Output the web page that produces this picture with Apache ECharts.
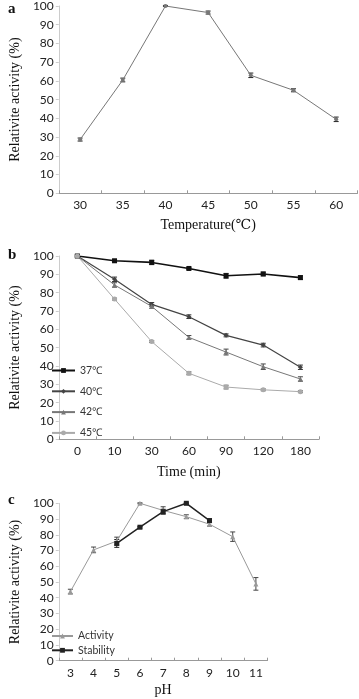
<!DOCTYPE html>
<html><head><meta charset="utf-8">
<script src="https://cdn.jsdelivr.net/npm/echarts@6/dist/echarts.min.js"></script>
<style>html,body{margin:0;padding:0;background:#fff}#c{width:359px;height:699px}</style>
</head><body><div id="c"></div>
<script>
// Panel a
var tempCats = ['30','35','40','45','50','55','60'];
var tempActivity = [28.7, 60.5, 100, 96.5, 63, 55, 39.5];
var tempErr = [0.8, 1, 0.3, 0.8, 1.2, 0.8, 1.2];
// Panel b
var timeCats = ['0','10','30','60','90','120','180'];
var t37 = [100, 97.4, 96.5, 93.2, 89.2, 90.2, 88.2];
var t37Err = [0.5, 0.6, 1.2, 0.6, 1.3, 1, 1];
var t40 = [100, 87.3, 73.6, 66.9, 56.7, 51.4, 39.3];
var t40Err = [0.5, 1.2, 1, 1, 0.8, 1, 1.2];
var t42 = [100, 84.2, 72.5, 55.6, 47.6, 39.6, 32.9];
var t42Err = [0.5, 1.2, 1, 1, 1.6, 1.5, 1.2];
var t45 = [100, 76.5, 53.3, 36, 28.5, 27, 26];
var t45Err = [0.5, 0.5, 0.5, 0.8, 1, 0.5, 0.5];
// Panel c
var phCats = ['3','4','5','6','7','8','9','10','11'];
var phActivity = [43.9, 70.4, 76, 100, 95.5, 91.5, 86.7, 78.8, 48.8];
var phActErr = [1.5, 1.8, 2.5, 0.3, 2.3, 1.2, 1.2, 3, 4];
var phStability = [null, null, 74.5, 84.8, 94.7, 100, 89, null, null];
var phStabErr = [null, null, 2.5, 0.5, 1.5, 0.3, 1.2, null, null];
var yTicks = [0,10,20,30,40,50,60,70,80,90,100];

var labelFont = 'Lato';
var serif = '"Liberation Serif", "DejaVu Serif", serif';

function errData(vals, errs) {
  var out = [];
  for (var i = 0; i < vals.length; i++) {
    if (vals[i] == null) continue;
    out.push([i, vals[i] - errs[i], vals[i] + errs[i]]);
  }
  return out;
}
function errSeries(idx, vals, errs, color) {
  return {
    type: 'custom', xAxisIndex: idx, yAxisIndex: idx, silent: true, z: 3,
    data: errData(vals, errs),
    encode: {x: 0, y: [1, 2]},
    renderItem: function (params, api) {
      var x = api.value(0);
      var lo = api.coord([x, api.value(1)]);
      var hi = api.coord([x, api.value(2)]);
      var w = 2.5;
      var st = {stroke: color, lineWidth: 1};
      return {type: 'group', children: [
        {type: 'line', shape: {x1: lo[0], y1: lo[1], x2: hi[0], y2: hi[1]}, style: st},
        {type: 'line', shape: {x1: lo[0]-w, y1: lo[1], x2: lo[0]+w, y2: lo[1]}, style: st},
        {type: 'line', shape: {x1: hi[0]-w, y1: hi[1], x2: hi[0]+w, y2: hi[1]}, style: st}
      ]};
    }
  };
}
function lineSeries(idx, name, vals, color, width, symbol, size) {
  return {
    type: 'line', name: name, xAxisIndex: idx, yAxisIndex: idx, data: vals,
    symbol: symbol, symbolSize: size, z: 4,
    lineStyle: {color: color, width: width},
    itemStyle: {color: color},
    connectNulls: false
  };
}
function xAxisDef(idx, cats, name, gap) {
  return {
    type: 'category', gridIndex: idx, data: cats, boundaryGap: true,
    name: name, nameLocation: 'middle', nameGap: gap,
    nameTextStyle: {fontFamily: serif, fontSize: 14, color: '#111'},
    axisLine: {lineStyle: {color: '#999', width: 1}},
    axisTick: {show: true, inside: true, length: 3, lineStyle: {color: '#999'}},
    axisLabel: {fontFamily: labelFont, fontSize: 12, color: '#222', margin: 6}
  };
}
function yAxisDef(idx) {
  return {
    type: 'value', gridIndex: idx, min: 0, max: 100, interval: 10,
    name: 'Relativite activity (%)', nameLocation: 'middle', nameGap: 24, nameRotate: 90,
    nameTextStyle: {fontFamily: serif, fontSize: 14, color: '#111'},
    axisLine: {show: true, lineStyle: {color: '#ccc', width: 1}},
    axisTick: {show: true, length: 3, lineStyle: {color: '#ccc'}},
    splitLine: {show: false},
    axisLabel: {fontFamily: labelFont, fontSize: 12, color: '#222', margin: 5,
      formatter: function (v) { return yTicks.indexOf(v) >= 0 ? String(v) : ''; }}
  };
}

var chart = echarts.init(document.getElementById('c'), null, {renderer: 'canvas'});
chart.setOption({
  animation: false,
  backgroundColor: '#fff',
  title: [
    {text: 'a', left: 3, top: -3, textStyle: {fontFamily: serif, fontSize: 15, fontWeight: 'bold', color: '#111'}},
    {text: 'b', left: 3, top: 243, textStyle: {fontFamily: serif, fontSize: 15, fontWeight: 'bold', color: '#111'}},
    {text: 'c', left: 3, top: 488, textStyle: {fontFamily: serif, fontSize: 15, fontWeight: 'bold', color: '#111'}}
  ],
  grid: [
    {left: 42.5, top: 5, width: 315, height: 188.3},
    {left: 42.5, top: 256, width: 276.5, height: 183.3},
    {left: 42.5, top: 503.3, width: 225, height: 157.4}
  ],
  legend: [
    {data: ['37℃','40℃','42℃','45℃'], orient: 'vertical', left: 51, top: 365, padding: 0,
     itemWidth: 23, itemHeight: 6, itemGap: 9.8,
     textStyle: {fontFamily: labelFont, fontSize: 10.5, lineHeight: 10, color: '#333'}},
    {data: ['Activity','Stability'], orient: 'vertical', left: 51, top: 630.5, padding: 0,
     itemWidth: 21, itemHeight: 6, itemGap: 3.3,
     textStyle: {fontFamily: labelFont, fontSize: 10.5, lineHeight: 10, color: '#333'}}
  ],
  xAxis: [
    xAxisDef(0, tempCats, 'Temperature(℃)', 25),
    xAxisDef(1, timeCats, 'Time (min)', 26),
    xAxisDef(2, phCats, 'pH', 23)
  ],
  yAxis: [yAxisDef(0), yAxisDef(1), yAxisDef(2)],
  series: [
    lineSeries(0, 'Temp', tempActivity, '#777', 1, 'circle', 4),
    errSeries(0, tempActivity, tempErr, '#222'),

    lineSeries(1, '37℃', t37, '#111', 1.6, 'rect', 5),
    errSeries(1, t37, t37Err, '#222'),
    lineSeries(1, '40℃', t40, '#444', 1.2, 'diamond', 5),
    errSeries(1, t40, t40Err, '#333'),
    lineSeries(1, '42℃', t42, '#777', 1, 'triangle', 5),
    errSeries(1, t42, t42Err, '#444'),
    lineSeries(1, '45℃', t45, '#aaa', 1, 'circle', 5),
    errSeries(1, t45, t45Err, '#444'),

    lineSeries(2, 'Activity', phActivity, '#999', 1, 'triangle', 5),
    errSeries(2, phActivity, phActErr, '#444'),
    lineSeries(2, 'Stability', phStability, '#222', 1.5, 'rect', 5),
    errSeries(2, phStability, phStabErr, '#222')
  ]
});
</script></body></html>
